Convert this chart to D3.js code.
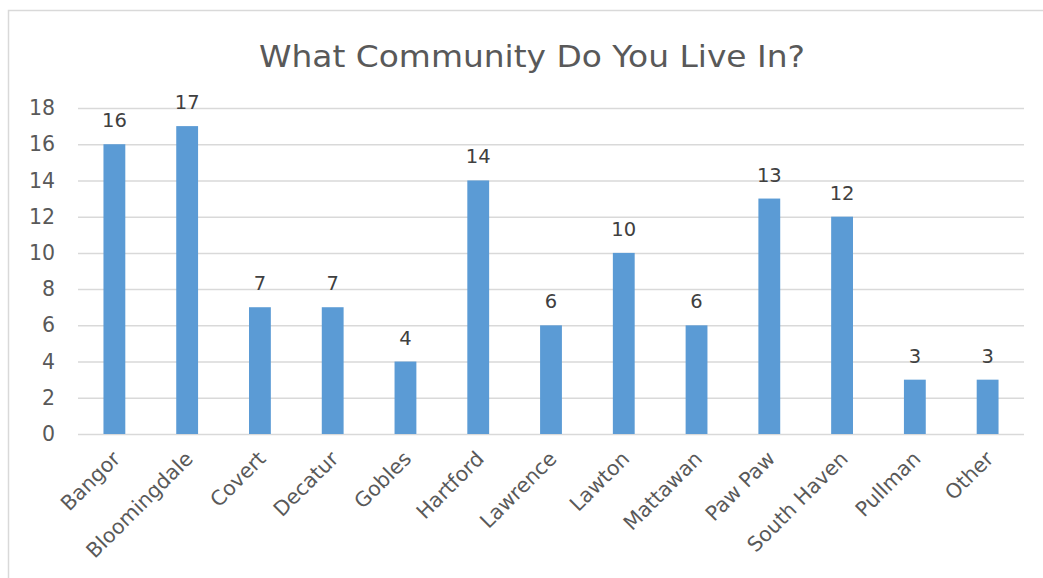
<!DOCTYPE html>
<html><head><meta charset="utf-8">
<script src="https://cdn.jsdelivr.net/npm/d3@7"></script>
<style>body{margin:0;background:#fff;} svg{display:block;font-family:"DejaVu Sans",sans-serif;}</style>
</head><body><svg id="c" width="1043" height="578"></svg>
<script>
const categories = ["Bangor","Bloomingdale","Covert","Decatur","Gobles","Hartford","Lawrence","Lawton","Mattawan","Paw Paw","South Haven","Pullman","Other"];
const values = [16,17,7,7,4,14,6,10,6,13,12,3,3];
const yTicks = [0,2,4,6,8,10,12,14,16,18];
const title = "What Community Do You Live In?";

const svg = d3.select("#c");
svg.append("rect").attr("x",8.5).attr("y",10.5).attr("width",1040).attr("height",600)
  .attr("fill","#fff").attr("stroke","#d9d9d9").attr("stroke-width",1.5);

const x = d3.scaleBand().domain(categories).range([78,1024]).paddingInner(0.7).paddingOuter(0.35);
const y = d3.scaleLinear().domain([0,18]).range([434,108]);

svg.append("text").attr("x",532).attr("y",67).attr("text-anchor","middle")
  .attr("font-size",31).attr("textLength",546).attr("lengthAdjust","spacingAndGlyphs")
  .attr("fill","#595959").text(title);

const yAxis = svg.append("g").attr("transform","translate(78,0)")
  .call(d3.axisLeft(y).tickValues(yTicks).tickSize(-946).tickPadding(23));
yAxis.select(".domain").remove();
yAxis.selectAll("line").attr("stroke","#d9d9d9").attr("stroke-width",1.5);
yAxis.selectAll("text").attr("font-size",20.5).attr("fill","#595959").attr("font-family","DejaVu Sans");

const xAxis = svg.append("g").attr("transform","translate(0,434)")
  .call(d3.axisBottom(x).tickSize(0).tickPadding(0));
xAxis.select(".domain").remove();
xAxis.selectAll("text").attr("font-size",20.5).attr("fill","#595959").attr("font-family","DejaVu Sans")
  .attr("text-anchor","end").attr("dy",0)
  .attr("transform","translate(7,26) rotate(-45)");

svg.append("g").selectAll("rect").data(values).join("rect")
  .attr("x",(d,i)=>x(categories[i])).attr("width",x.bandwidth())
  .attr("y",d=>y(d)).attr("height",d=>y(0)-y(d)).attr("fill","#5b9bd5");

svg.append("g").selectAll("text").data(values).join("text")
  .attr("x",(d,i)=>x(categories[i])+x.bandwidth()/2).attr("y",d=>y(d)-17)
  .attr("text-anchor","middle").attr("font-size",19.5).attr("fill","#404040").text(d=>d);
</script></body></html>
